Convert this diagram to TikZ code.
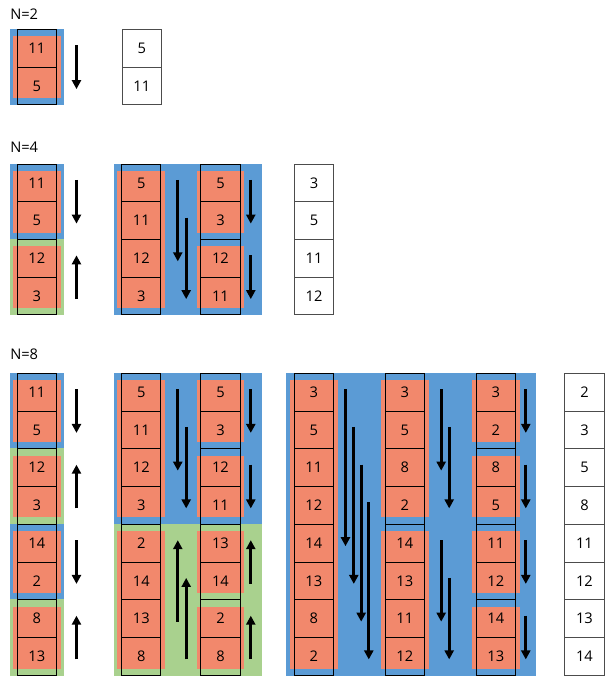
\documentclass[tikz,border=0pt]{standalone}
\usepackage{fontspec}
\setmainfont{Open Sans}
\usepackage{tikz}
\usetikzlibrary{arrows.meta,backgrounds,calc}
\definecolor{sortblue}{RGB}{91,155,213}
\definecolor{sortgreen}{RGB}{169,209,142}
\definecolor{sortred}{RGB}{242,136,108}

% column of cells: [style] name, left x, top y, values
\newcommand{\sortcolumn}[5][cell]{%
  \foreach \v [count=\i] in {#5}
    \node[#1] (#2-\i) at (#3+19.75, #4+\i*37.75-18.875) {\v};
}
% coloured ground behind cells: colour, first node, last node, left, right
\newcommand{\bgblock}[5]{%
  \fill[#1] ($(#2.north west)+(-#4,0)$) rectangle ($(#3.south east)+(#5,0)$);
}
% red block over cells #2..#3 of column #1
\newcommand{\redblock}[3]{%
  \fill[sortred] ($(#1-#2.north west)+(-3.6,7.3)$) rectangle ($(#1-#3.south east)+(3.6,-7.3)$);
}
\newcommand{\sortdown}[4]{%
  \draw[sortarrow] ($(#1-#2.east)+(#4,-3)$) -- ($(#1-#3.east)+(#4,3)$);
}
\newcommand{\sortup}[4]{%
  \draw[sortarrow] ($(#1-#3.east)+(#4,3)$) -- ($(#1-#2.east)+(#4,-3)$);
}

\begin{document}
\begin{tikzpicture}[x=0.75pt, y=-0.75pt,
    every node/.style={font=\fontsize{11}{13}\selectfont},
    cell/.style={draw=black, line width=0.75pt, minimum width=29.6pt,
                 minimum height=28.3pt, inner sep=0pt},
    rescell/.style={cell, draw=black!70},
    sortarrow/.style={line width=2.25pt, -{Triangle[length=6.75pt,width=6.75pt]}},
    title/.style={anchor=west, inner sep=0pt},
]
    \useasboundingbox (0,0) rectangle (606,677);

    % N=2
    \node[title] (n2) at (10,14) {N=2};
    \sortcolumn{a1}{17}{29.5}{11,5}
    \sortcolumn[rescell]{a2}{122}{29.5}{5,11}
    \begin{scope}[on background layer]
        \bgblock{sortblue}{a1-1}{a1-2}{7}{7.5}
        \redblock{a1}{1}{2}
    \end{scope}
    \sortdown{a1}{1}{2}{19.5}

    % N=4
    \node[title] (n4) at (10,147) {N=4};
    \sortcolumn{b1}{17}{164}{11,5,12,3}
    \sortcolumn{b2}{121.5}{164}{5,11,12,3}
    \sortcolumn{b3}{200.7}{164}{5,3,12,11}
    \sortcolumn[rescell]{b4}{294.3}{164}{3,5,11,12}
    \begin{scope}[on background layer]
        \bgblock{sortblue}{b1-1}{b1-2}{7}{7.5}
        \bgblock{sortgreen}{b1-3}{b1-4}{7}{7.5}
        \bgblock{sortblue}{b2-1}{b3-4}{7.5}{21.5}
        \redblock{b1}{1}{2}
        \redblock{b1}{3}{4}
        \redblock{b2}{1}{4}
        \redblock{b3}{1}{2}
        \redblock{b3}{3}{4}
    \end{scope}
    \sortdown{b1}{1}{2}{19.5}
    \sortup{b1}{3}{4}{19.5}
    \sortdown{b2}{1}{3}{16.3}
    \sortdown{b2}{2}{4}{24.7}
    \sortdown{b3}{1}{2}{10.1}
    \sortdown{b3}{3}{4}{10.1}

    % N=8
    \node[title] (n8) at (10,354.5) {N=8};
    \sortcolumn{c1}{17}{373.3}{11,5,12,3,14,2,8,13}
    \sortcolumn{c2}{121.5}{373.3}{5,11,12,3,2,14,13,8}
    \sortcolumn{c3}{200.7}{373.3}{5,3,12,11,13,14,2,8}
    \sortcolumn{d1}{294}{373.3}{3,5,11,12,14,13,8,2}
    \sortcolumn{d2}{385}{373.3}{3,5,8,2,14,13,11,12}
    \sortcolumn{d3}{476}{373.3}{3,2,8,5,11,12,14,13}
    \sortcolumn[rescell]{d4}{564.7}{373.3}{2,3,5,8,11,12,13,14}
    \begin{scope}[on background layer]
        \bgblock{sortblue}{c1-1}{c1-2}{7}{7.5}
        \bgblock{sortgreen}{c1-3}{c1-4}{7}{7.5}
        \bgblock{sortblue}{c1-5}{c1-6}{7}{7.5}
        \bgblock{sortgreen}{c1-7}{c1-8}{7}{7.5}
        \bgblock{sortblue}{c2-1}{c3-4}{7.5}{21.5}
        \bgblock{sortgreen}{c2-5}{c3-8}{7.5}{21.5}
        \bgblock{sortblue}{d1-1}{d3-8}{8}{20.5}
        \foreach \k/\l in {1/2,3/4,5/6,7/8} {
            \redblock{c1}{\k}{\l}
            \redblock{c3}{\k}{\l}
            \redblock{d3}{\k}{\l}
        }
        \redblock{c2}{1}{4}
        \redblock{c2}{5}{8}
        \redblock{d1}{1}{8}
        \redblock{d2}{1}{4}
        \redblock{d2}{5}{8}
    \end{scope}
    \sortdown{c1}{1}{2}{19.5}
    \sortup{c1}{3}{4}{19.5}
    \sortdown{c1}{5}{6}{19.5}
    \sortup{c1}{7}{8}{19.5}
    \sortdown{c2}{1}{3}{16.3}
    \sortdown{c2}{2}{4}{24.7}
    \sortup{c2}{5}{7}{16.3}
    \sortup{c2}{6}{8}{24.7}
    \sortdown{c3}{1}{2}{10.1}
    \sortdown{c3}{3}{4}{10.1}
    \sortup{c3}{5}{6}{10.1}
    \sortup{c3}{7}{8}{10.1}
    \sortdown{d1}{1}{5}{11.5}
    \sortdown{d1}{2}{6}{19.8}
    \sortdown{d1}{3}{7}{27.2}
    \sortdown{d1}{4}{8}{34.8}
    \sortdown{d2}{1}{3}{16.2}
    \sortdown{d2}{2}{4}{24.2}
    \sortdown{d2}{5}{7}{16.2}
    \sortdown{d2}{6}{8}{24.2}
    \foreach \k/\l in {1/2,3/4,5/6,7/8}
        \sortdown{d3}{\k}{\l}{9.8};
\end{tikzpicture}
\end{document}
